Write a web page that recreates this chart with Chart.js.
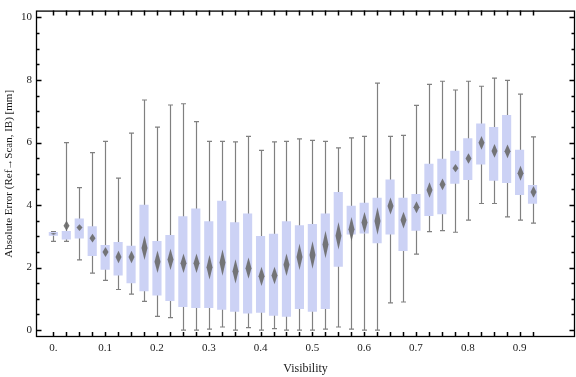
<!DOCTYPE html>
<html>
<head>
<meta charset="utf-8">
<script src="https://cdn.jsdelivr.net/npm/chart.js@4"></script>
<style>
  body { margin: 0; background: #fff; }
  canvas { display: block; }
</style>
</head>
<body>
<canvas id="box-chart" width="576" height="377"></canvas>
<script>
// visibility bins
const positions = [0, 0.025, 0.05, 0.075, 0.1, 0.125, 0.15, 0.175, 0.2, 0.225,
    0.25, 0.275, 0.3, 0.325, 0.35, 0.375, 0.4, 0.425, 0.45, 0.475,
    0.5, 0.525, 0.55, 0.575, 0.6, 0.625, 0.65, 0.675, 0.7, 0.725,
    0.75, 0.775, 0.8, 0.825, 0.85, 0.875, 0.9, 0.925];

// box whisker values (mm)
const whiskerLow = [2.84, 2.84, 2.25, 1.82, 1.59, 1.3, 1.15, 0.92, 0.44, 0.4,
    0, 0, 0.03, 0.1, 0, 0.08, 0, 0.05, 0, 0,
    0, 0.03, 0.1, 0.03, 0, 0, 0.87, 0.9, 2.43, 3.15,
    3.18, 3.13, 3.52, 4.05, 4.05, 3.62, 3.52, 3.42];
const quart1 = [3.03, 2.91, 2.94, 2.38, 1.94, 1.76, 1.51, 1.25, 1.12, 0.94,
    0.75, 0.72, 0.72, 0.66, 0.6, 0.54, 0.57, 0.47, 0.44, 0.69,
    0.6, 0.69, 2.04, 3.07, 3.1, 2.79, 3.07, 2.54, 3.19, 3.66,
    3.72, 4.69, 4.81, 5.31, 4.79, 4.72, 4.33, 4.05];
const middle = [3.08, 3.34, 3.28, 2.94, 2.5, 2.34, 2.34, 2.63, 2.19, 2.26,
    2.14, 2.14, 2.01, 2.16, 1.88, 1.98, 1.72, 1.75, 2.09, 2.34,
    2.4, 2.74, 3.02, 3.23, 3.44, 3.49, 3.97, 3.52, 3.93, 4.48,
    4.66, 5.18, 5.49, 5.99, 5.73, 5.72, 5.02, 4.42];
const quart3 = [3.13, 3.16, 3.56, 3.31, 2.71, 2.81, 2.69, 4.0, 2.84, 3.03,
    3.63, 3.88, 3.47, 4.13, 3.44, 3.72, 3.0, 3.07, 3.47, 3.34,
    3.38, 3.72, 4.41, 3.97, 4.06, 4.22, 4.81, 4.22, 4.34, 5.31,
    5.47, 5.73, 6.13, 6.6, 6.49, 6.87, 5.76, 4.63];
const whiskerHigh = [3.15, 6.0, 4.56, 5.68, 6.04, 4.86, 6.3, 7.36, 6.49, 7.2,
    7.24, 6.67, 6.04, 6.04, 6.02, 6.2, 5.75, 6.02, 6.04, 6.12,
    6.07, 6.04, 5.83, 6.15, 6.2, 7.9, 6.2, 6.23, 7.19, 7.86,
    7.96, 7.68, 7.96, 7.8, 8.06, 7.99, 7.55, 6.18];
// half height of the mean diamond
const diamondHalf = [0.03, 0.16, 0.11, 0.14, 0.16, 0.2, 0.2, 0.39, 0.36, 0.34,
    0.31, 0.31, 0.39, 0.42, 0.39, 0.34, 0.31, 0.28, 0.36, 0.42,
    0.44, 0.44, 0.44, 0.39, 0.34, 0.44, 0.27, 0.27, 0.19, 0.25,
    0.19, 0.13, 0.17, 0.22, 0.22, 0.22, 0.24, 0.19];

const xLabels = [0, 0.1, 0.2, 0.3, 0.4, 0.5, 0.6, 0.7, 0.8, 0.9];
const yLabels = [0, 2, 4, 6, 8, 10];

const serif = "'Liberation Serif', 'Times New Roman', serif";

// whiskers behind boxes, diamonds on top, frame last
const boxWhiskerPlugin = {
    id: 'boxWhisker',
    beforeDatasetsDraw(chart) {
        const {ctx, scales: {x, y}, chartArea} = chart;
        ctx.save();
        ctx.beginPath();
        ctx.rect(chartArea.left, chartArea.top, chartArea.right - chartArea.left, chartArea.bottom - chartArea.top);
        ctx.clip();
        ctx.strokeStyle = 'rgb(128,128,128)';
        ctx.lineWidth = 1.2;
        positions.forEach((p, i) => {
            const px = Math.round(x.getPixelForValue(p)) + 0.5;
            const lo = y.getPixelForValue(whiskerLow[i]);
            const hi = y.getPixelForValue(whiskerHigh[i]);
            ctx.beginPath();
            ctx.moveTo(px, lo);
            ctx.lineTo(px, hi);
            ctx.moveTo(px - 2.5, lo);
            ctx.lineTo(px + 2.5, lo);
            ctx.moveTo(px - 2.5, hi);
            ctx.lineTo(px + 2.5, hi);
            ctx.stroke();
        });
        ctx.restore();
    },
    afterDatasetsDraw(chart) {
        const {ctx, scales: {x, y}} = chart;
        ctx.save();
        ctx.fillStyle = 'rgba(105,105,105,0.9)';
        positions.forEach((p, i) => {
            const px = Math.round(x.getPixelForValue(p)) + 0.5;
            const top = y.getPixelForValue(middle[i] + diamondHalf[i]);
            const mid = y.getPixelForValue(middle[i]);
            const bot = y.getPixelForValue(middle[i] - diamondHalf[i]);
            ctx.beginPath();
            ctx.moveTo(px, top);
            ctx.lineTo(px + 3, mid);
            ctx.lineTo(px, bot);
            ctx.lineTo(px - 3, mid);
            ctx.closePath();
            ctx.fill();
        });
        ctx.restore();
    },
    afterDraw(chart) {
        const {ctx, scales: {x, y}, chartArea: a} = chart;
        ctx.save();
        ctx.strokeStyle = '#000';
        ctx.lineWidth = 1.5;
        ctx.beginPath();
        // inward ticks on x, one per bin
        positions.forEach(p => {
            const px = Math.round(x.getPixelForValue(p)) + 0.5;
            ctx.moveTo(px, a.bottom);
            ctx.lineTo(px, a.bottom - 5);
            ctx.moveTo(px, a.top);
            ctx.lineTo(px, a.top + 5);
        });
        // inward ticks on y, every 0.5
        for (let v = 0; v <= 10; v += 0.5) {
            const py = Math.round(y.getPixelForValue(v)) + 0.5;
            const len = v % 2 === 0 ? 5.5 : 3.5;
            ctx.moveTo(a.left, py);
            ctx.lineTo(a.left + len, py);
            ctx.moveTo(a.right, py);
            ctx.lineTo(a.right - len, py);
        }
        ctx.stroke();
        ctx.lineWidth = 1.3;
        ctx.strokeRect(a.left + 0.5, a.top + 0.5, a.right - a.left - 1, a.bottom - a.top - 1);
        ctx.restore();
    }
};

const boxChart = new Chart(document.getElementById('box-chart'), {
    type: 'bar',
    data: {
        datasets: [{
            data: positions.map((p, i) => ({x: p, y: [quart1[i], quart3[i]]})),
            backgroundColor: 'rgb(204,210,245)',
            borderWidth: 0,
            barThickness: 8.5
        }]
    },
    options: {
        responsive: false,
        animation: false,
        devicePixelRatio: 1,
        layout: {padding: {top: 4, right: 1, left: 0, bottom: 0}},
        plugins: {
            legend: {display: false},
            tooltip: {enabled: false}
        },
        scales: {
            x: {
                type: 'linear',
                offset: false,
                min: -0.0335,
                max: 1.007,
                grid: {display: false, drawTicks: false},
                border: {display: false},
                afterBuildTicks: s => { s.ticks = xLabels.map(v => ({value: v})); },
                afterFit: s => { s.height = 40; },
                ticks: {
                    padding: 5,
                    maxRotation: 0,
                    color: '#1a1a1a',
                    font: {family: serif, size: 11},
                    callback: v => v === 0 ? '0.' : v.toFixed(1)
                },
                title: {
                    display: true,
                    text: 'Visibility',
                    color: '#1a1a1a',
                    padding: {top: 0, bottom: 1},
                    font: {family: serif, size: 12}
                }
            },
            y: {
                min: -0.22,
                max: 10.22,
                grid: {display: false, drawTicks: false},
                border: {display: false},
                afterBuildTicks: s => { s.ticks = yLabels.map(v => ({value: v})); },
                afterFit: s => { s.width = 36; },
                ticks: {
                    padding: 4,
                    color: '#1a1a1a',
                    font: {family: serif, size: 11},
                    callback: v => String(v)
                },
                title: {
                    display: true,
                    text: 'Absolute Error (Ref\u2192Scan, IB) [mm]',
                    color: '#1a1a1a',
                    padding: {top: 3, bottom: 0},
                    font: {family: serif, size: 11}
                }
            }
        }
    },
    plugins: [boxWhiskerPlugin]
});
</script>
</body>
</html>
